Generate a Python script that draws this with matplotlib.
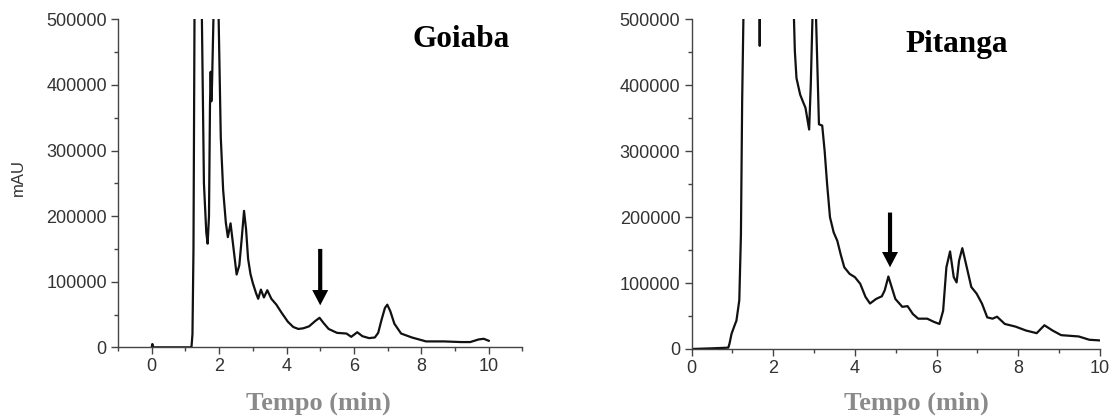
import matplotlib
matplotlib.use("Agg")
import matplotlib.pyplot as plt
from matplotlib.ticker import MultipleLocator

# ---- data ----
goiaba_t = [0.0, 0.02, 0.04, 1.18, 1.21, 1.24, 1.27, 1.38, 1.49, 1.55, 1.62, 1.66, 1.70, 1.73,
            1.75, 1.77, 1.79, 1.84, 1.91, 1.98, 2.05, 2.12, 2.2, 2.26, 2.34, 2.43, 2.52, 2.6,
            2.67, 2.74, 2.8, 2.86, 2.93, 3.0, 3.1, 3.16, 3.24, 3.33, 3.43, 3.55, 3.7, 3.85, 4.04,
            4.2, 4.35, 4.5, 4.67, 4.85, 4.98, 5.1, 5.25, 5.5, 5.78, 5.92, 6.1, 6.25, 6.45, 6.62,
            6.72, 6.82, 6.92, 6.99, 7.08, 7.2, 7.4, 7.72, 8.14, 8.67, 9.19, 9.45, 9.7, 9.85, 10.0]
goiaba_mau = [0, 5000, 0, 0, 20000, 150000, 500000, 900000, 500000, 250000, 175000, 158000,
              200000, 370000, 420000, 375000, 400000, 520000, 900000, 520000, 320000, 240000,
              190000, 168000, 189000, 150000, 111000, 125000, 165000, 208000, 180000, 135000,
              112000, 98000, 82000, 74000, 88000, 76000, 87000, 74000, 65000, 53000, 39000,
              31000, 28000, 29000, 32000, 40000, 45000, 37000, 28000, 22000, 21000, 16000, 23000,
              17000, 14000, 15000, 22000, 42000, 60000, 65000, 55000, 36000, 21000, 15000, 9000,
              9000, 8000, 8000, 12000, 13000, 10000]

pitanga_t = [0.0, 0.5, 0.9, 0.93, 0.98, 1.05, 1.1, 1.17, 1.21, 1.24, 1.27, 1.45, 1.66, 1.67,
             1.68, 2.1, 2.5, 2.53, 2.57, 2.66, 2.73, 2.79, 2.88, 2.92, 2.96, 3.0, 3.05, 3.12,
             3.2, 3.26, 3.32, 3.39, 3.48, 3.57, 3.65, 3.74, 3.87, 4.0, 4.13, 4.26, 4.37, 4.52,
             4.66, 4.73, 4.82, 4.9, 4.99, 5.16, 5.29, 5.42, 5.55, 5.77, 5.94, 6.07, 6.16, 6.24,
             6.33, 6.42, 6.49, 6.55, 6.63, 6.72, 6.85, 6.98, 7.11, 7.24, 7.37, 7.48, 7.67, 7.93,
             8.19, 8.45, 8.64, 8.84, 9.05, 9.48, 9.74, 10.0]
pitanga_mau = [0, 1000, 2000, 8000, 23000, 35000, 43000, 74000, 174000, 376000, 500000,
               1200000, 600000, 460000, 600000, 1200000, 520000, 452000, 411000, 386000, 375000,
               366000, 333000, 401000, 500000, 700000, 500000, 341000, 339000, 300000, 250000,
               200000, 177000, 164000, 144000, 124000, 114000, 109000, 99000, 79000, 69000,
               76000, 80000, 89000, 110000, 94000, 76000, 64000, 65000, 53000, 46000, 46000,
               41000, 38000, 58000, 124000, 148000, 109000, 101000, 134000, 153000, 129000,
               94000, 84000, 69000, 48000, 46000, 49000, 38000, 34000, 28000, 24000, 36000,
               28000, 21000, 19000, 14000, 13000]

goiaba_arrow_x, goiaba_arrow_from, goiaba_arrow_to = 5.0, 150000, 64000
pitanga_arrow_x, pitanga_arrow_from, pitanga_arrow_to = 4.86, 207000, 124000

titles = ["Goiaba", "Pitanga"]
xlabel = "Tempo (min)"
ylabel = "mAU"

# ---- figure ----
fig = plt.figure(figsize=(11.13, 4.18), dpi=100)
axL = fig.add_axes([0.1060, 0.1691, 0.3634, 0.7847])
axR = fig.add_axes([0.6213, 0.1651, 0.3670, 0.7883])

spine_col = "#444444"
tick_col = "#333333"

def style(ax, xlim):
    ax.set_xlim(*xlim)
    ax.set_ylim(0, 500000)
    for s in ["top", "right"]:
        ax.spines[s].set_visible(False)
    for s in ["left", "bottom"]:
        ax.spines[s].set_color(spine_col)
        ax.spines[s].set_linewidth(1.0)
    ax.xaxis.set_major_locator(MultipleLocator(2))
    ax.xaxis.set_minor_locator(MultipleLocator(1))
    ax.yaxis.set_major_locator(MultipleLocator(100000))
    ax.yaxis.set_minor_locator(MultipleLocator(50000))
    ax.tick_params(which="major", direction="out", length=5, width=1.0, color=spine_col,
                   labelsize=13, labelcolor=tick_col, pad=3)
    ax.tick_params(which="minor", direction="out", length=3, width=1.0, color=spine_col)
    ax.yaxis.set_major_formatter(plt.FuncFormatter(lambda v, p: f"{int(round(v))}"))

def arrow(ax, x, y0, y1):
    ax.annotate("", xy=(x, y1), xytext=(x, y0),
                arrowprops=dict(arrowstyle="simple,head_length=1.1,head_width=1.15,tail_width=0.3",
                                mutation_scale=10, color="black", shrinkA=0, shrinkB=0, lw=0))

style(axL, (-1, 11))
style(axR, (0, 10))

axL.plot(goiaba_t, goiaba_mau, color="#111111", lw=1.6)
axR.plot(pitanga_t, pitanga_mau, color="#111111", lw=1.6)

arrow(axL, goiaba_arrow_x, goiaba_arrow_from, goiaba_arrow_to)
arrow(axR, pitanga_arrow_x, pitanga_arrow_from, pitanga_arrow_to)

serif = ["Liberation Serif", "DejaVu Serif"]
fig.text(0.4142, 0.8876, titles[0], ha="center", va="baseline", fontsize=22.5,
         fontweight="bold", family=serif, color="black")
fig.text(0.8598, 0.8749, titles[1], ha="center", va="baseline", fontsize=22.5,
         fontweight="bold", family=serif, color="black")

fig.text(0.2857, 0.019, xlabel, ha="center", va="baseline", fontsize=19,
         fontweight="bold", family=serif, color="#8a8a8a")
fig.text(0.8230, 0.019, xlabel, ha="center", va="baseline", fontsize=19,
         fontweight="bold", family=serif, color="#8a8a8a")

fig.text(0.0162, 0.575, ylabel, ha="center", va="center", rotation=90, fontsize=12,
         family=["Liberation Sans", "DejaVu Sans"], color=tick_col)

for ax in (axL, axR):
    for lab in ax.get_xticklabels() + ax.get_yticklabels():
        lab.set_family(["Liberation Sans", "DejaVu Sans"])

fig.savefig("out.png", dpi=100)
